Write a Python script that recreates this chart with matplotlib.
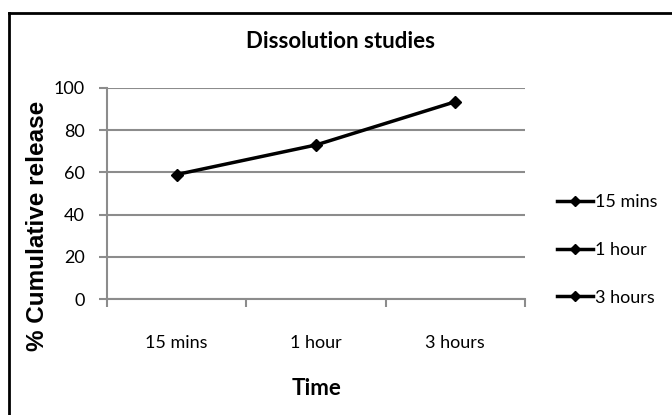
import matplotlib
matplotlib.use("Agg")
import matplotlib.pyplot as plt
from matplotlib.lines import Line2D

# Data
categories = ["15 mins", "1 hour", "3 hours"]
release = [59, 73, 93.5]
y_ticks = [0, 20, 40, 60, 80, 100]

narrow = ["Lato", "DejaVu Sans"]
GRID = "#8c8c8c"

fig = plt.figure(figsize=(6.72, 4.15), dpi=100)
ax = fig.add_axes([107 / 672, 1 - 299 / 415, (525 - 107) / 672, (299 - 88) / 415])

x = list(range(len(categories)))
ax.plot(x, release, color="black", lw=2.5, marker="D", ms=6, zorder=3)

ax.set_xlim(-0.5, len(categories) - 0.5)
ax.set_ylim(0, 100)
ax.set_yticks(y_ticks)
ax.set_yticklabels([str(v) for v in y_ticks], fontfamily=narrow, fontsize=13)
ax.yaxis.grid(True, color=GRID, lw=1.5)
ax.set_axisbelow(True)

# category ticks between groups, labels centred on each group
ax.set_xticks([i - 0.5 for i in range(len(categories) + 1)])
ax.set_xticklabels([])
ax.set_xticks(x, minor=True)
ax.set_xticklabels(categories, minor=True, fontfamily=narrow, fontsize=13)
ax.tick_params(axis="x", which="minor", length=0, pad=26)
ax.tick_params(axis="x", which="major", length=6, color=GRID, width=1.5, direction="out")
ax.tick_params(axis="y", length=6, color=GRID, width=1.5, pad=10)

for s in ["top", "right"]:
    ax.spines[s].set_visible(False)
for s in ["left", "bottom"]:
    ax.spines[s].set_color(GRID)
    ax.spines[s].set_linewidth(1.5)

fig.text(340 / 672, 1 - 41 / 415, "Dissolution studies", ha="center", va="center",
         fontfamily=narrow, fontsize=16, fontweight="bold")
fig.text(317 / 672, 1 - 388 / 415, "Time", ha="center", va="center",
         fontfamily=narrow, fontsize=16, fontweight="bold")
fig.text(38 / 672, 1 - 226 / 415, "% Cumulative release", ha="center", va="center",
         rotation=90, fontfamily="Liberation Sans", fontsize=17.5, fontweight="bold")

handles = [Line2D([], [], color="black", lw=2.5, marker="D", ms=5) for _ in categories]
fig.legend(handles, categories, loc="center left", bbox_to_anchor=(548 / 672, 1 - 250 / 415),
           frameon=False, prop={"family": narrow, "size": 13}, labelspacing=1.75,
           handlelength=2.0, handletextpad=0.1, borderpad=0)

# outer frame
fig.add_artist(Line2D([9 / 672, 9 / 672], [0, 1 - 13 / 415], transform=fig.transFigure,
                      color="black", lw=2))
fig.add_artist(Line2D([9 / 672, 1], [1 - 13 / 415, 1 - 13 / 415], transform=fig.transFigure,
                      color="black", lw=2))

fig.savefig("out.png", dpi=100)
